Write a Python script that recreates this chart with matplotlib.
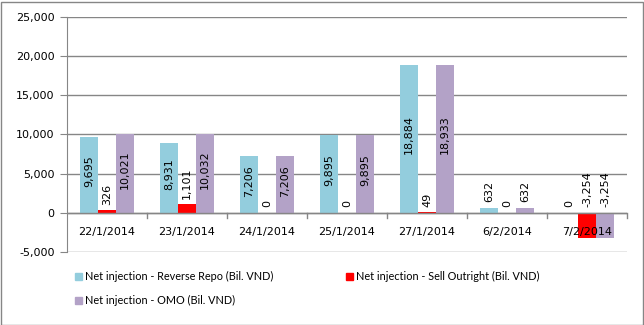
import matplotlib.pyplot as plt
import numpy as np
from matplotlib.patches import Rectangle, Patch

dates = ['22/1/2014', '23/1/2014', '24/1/2014', '25/1/2014', '27/1/2014', '6/2/2014', '7/2/2014']
reverse_repo = [9695, 8931, 7206, 9895, 18884, 632, 0]
sell_outright = [326, 1101, 0, 0, 49, 0, -3254]
omo = [10021, 10032, 7206, 9895, 18933, 632, -3254]

series_names = ['Net injection - Reverse Repo (Bil. VND)',
                'Net injection - Sell Outright (Bil. VND)',
                'Net injection - OMO (Bil. VND)']
colors = ['#93CDDD', '#FF0000', '#B3A2C7']

fig = plt.figure(figsize=(6.44, 3.25), dpi=100)
ax = fig.add_axes([67 / 644, 1 - 252 / 325, 560 / 644, 235 / 325])

x = np.arange(len(dates))
w = 0.225
grid_c = '#868686'

for i, (vals, c) in enumerate(zip([reverse_repo, sell_outright, omo], colors)):
    xs = x + (i - 1) * w
    ax.bar(xs, vals, w, color=c, zorder=2)
    for xi, v in zip(xs, vals):
        txt = f'{v:,}'
        if v > 3000:
            ax.text(xi, v / 2 + 500, txt, rotation=90, ha='center', va='center',
                    fontsize=8, zorder=4)
        else:
            ax.text(xi, max(v, 0) + 700, txt, rotation=90, ha='center', va='bottom',
                    fontsize=8, zorder=4)

ax.set_xlim(-0.5, len(dates) - 0.5)
ax.set_ylim(-5000, 25000)
ax.set_yticks(range(-5000, 25001, 5000))
ax.set_yticklabels([f'{t:,}' for t in range(-5000, 25001, 5000)], fontsize=8)
ax.yaxis.grid(True, color=grid_c, linewidth=1)
ax.set_axisbelow(True)
ax.tick_params(axis='y', length=5, color=grid_c, pad=4)

for s in ['top', 'right', 'bottom']:
    ax.spines[s].set_visible(False)
ax.spines['left'].set_color(grid_c)

ax.axhline(0, color=grid_c, linewidth=1, zorder=3)
ax.set_xticks([])
for b in np.arange(0.5, len(dates), 1.0):
    ax.plot([b, b], [0, -650], color=grid_c, linewidth=1, zorder=3, clip_on=False)
for xi, d in zip(x, dates):
    ax.text(xi, -2400, d, ha='center', va='center', fontsize=8, zorder=5)

handles = [Patch(color=c) for c in colors]
leg_font = {'family': 'Lato', 'size': 7.8}
for (hx, hy), h, lab in zip([(75, 276), (346, 276), (75, 300)], handles, series_names):
    fig.patches.append(Rectangle((hx / 644, 1 - (hy + 4) / 325), 7 / 644, 7 / 325,
                                 color=h.get_facecolor(), transform=fig.transFigure))
    fig.text((hx + 10) / 644, 1 - hy / 325, lab, va='center', ha='left', fontdict=leg_font)

fig.patches.append(Rectangle((0.5 / 644, 0.5 / 325), 642 / 644, 323 / 325, fill=False,
                             edgecolor=grid_c, linewidth=1, transform=fig.transFigure))

fig.savefig('out.png', dpi=100)
